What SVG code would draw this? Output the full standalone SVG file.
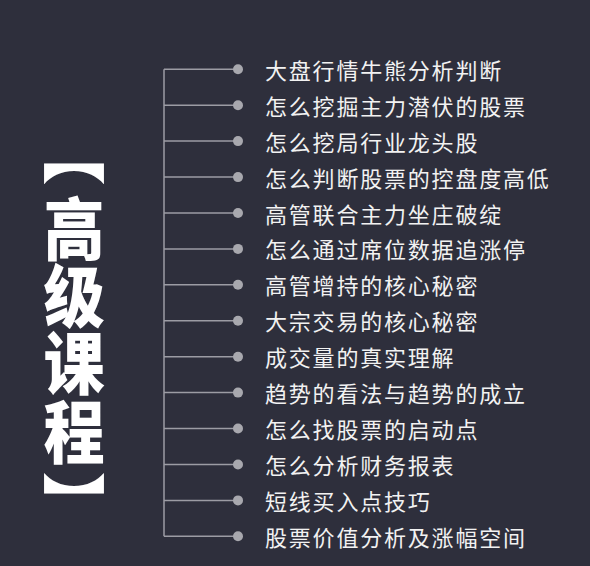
<svg xmlns="http://www.w3.org/2000/svg" width="590" height="566" viewBox="0 0 590 566">
<style>
.bg{fill:#2e2f3c}
.ln{stroke:#9c9ca4;stroke-width:1.5;fill:none}
.dot{fill:#a8a8ae}
.item{font-family:"Noto Sans CJK SC","Noto Sans",sans-serif;font-size:22px;fill:#f2f2f2;letter-spacing:1.8px}
.tt{font-family:"Noto Sans CJK SC","Noto Sans",sans-serif;font-size:68px;font-weight:900;fill:#ffffff;text-anchor:middle}
.br{font-family:"Noto Sans CJK SC","Noto Sans",sans-serif;font-size:63px;font-weight:900;fill:#ffffff;text-anchor:middle}
</style>
<rect class="bg" x="0" y="0" width="590" height="566"/>
<g id="title">
<text class="br" x="74" y="177">︻</text>
<text class="tt" transform="translate(74,255) scale(0.9,1)" x="0" y="0">高</text>
<text class="tt" transform="translate(74,322) scale(0.9,1)" x="0" y="0">级</text>
<text class="tt" transform="translate(74,389) scale(0.9,1)" x="0" y="0">课</text>
<text class="tt" transform="translate(74,458) scale(0.9,1)" x="0" y="0">程</text>
<text class="br" x="74" y="527">︼</text>
</g>
<g id="connectors">
<path class="ln" d="M164,69.3V536.3"/>
<path class="ln" d="M164,69.3H238M164,105.2H238M164,141.1H238M164,177.1H238M164,213H238M164,248.9H238M164,284.8H238M164,320.8H238M164,356.7H238M164,392.6H238M164,428.5H238M164,464.5H238M164,500.4H238M164,536.3H238"/>
<g>
<circle class="dot" cx="238" cy="69.3" r="5"/><circle class="dot" cx="238" cy="105.2" r="5"/><circle class="dot" cx="238" cy="141.1" r="5"/><circle class="dot" cx="238" cy="177.1" r="5"/><circle class="dot" cx="238" cy="213" r="5"/><circle class="dot" cx="238" cy="248.9" r="5"/><circle class="dot" cx="238" cy="284.8" r="5"/><circle class="dot" cx="238" cy="320.8" r="5"/><circle class="dot" cx="238" cy="356.7" r="5"/><circle class="dot" cx="238" cy="392.6" r="5"/><circle class="dot" cx="238" cy="428.5" r="5"/><circle class="dot" cx="238" cy="464.5" r="5"/><circle class="dot" cx="238" cy="500.4" r="5"/><circle class="dot" cx="238" cy="536.3" r="5"/>
</g>
</g>
<g id="items">
<text class="item" x="265" y="78.8">大盘行情牛熊分析判断</text>
<text class="item" x="265" y="114.7">怎么挖掘主力潜伏的股票</text>
<text class="item" x="265" y="150.6">怎么挖局行业龙头股</text>
<text class="item" x="265" y="186.6">怎么判断股票的控盘度高低</text>
<text class="item" x="265" y="222.5">高管联合主力坐庄破绽</text>
<text class="item" x="265" y="258.4">怎么通过席位数据追涨停</text>
<text class="item" x="265" y="294.3">高管增持的核心秘密</text>
<text class="item" x="265" y="330.3">大宗交易的核心秘密</text>
<text class="item" x="265" y="366.2">成交量的真实理解</text>
<text class="item" x="265" y="402.1">趋势的看法与趋势的成立</text>
<text class="item" x="265" y="438">怎么找股票的启动点</text>
<text class="item" x="265" y="474">怎么分析财务报表</text>
<text class="item" x="265" y="509.9">短线买入点技巧</text>
<text class="item" x="265" y="545.8">股票价值分析及涨幅空间</text>
</g>
</svg>
